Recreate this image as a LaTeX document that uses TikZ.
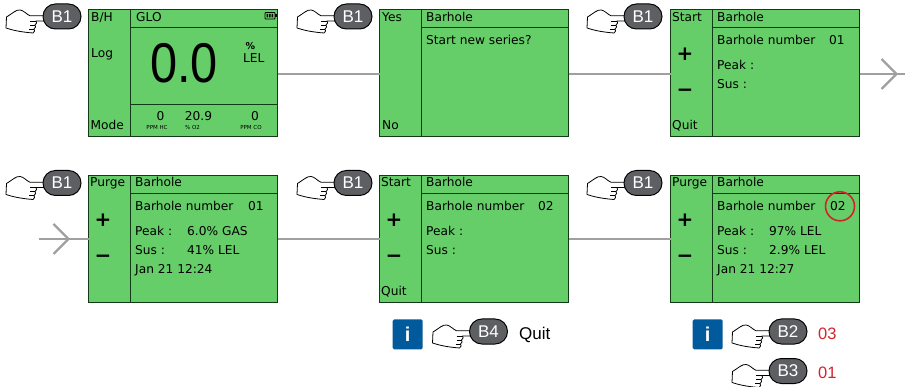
\documentclass[tikz,border=0pt]{standalone}
\usepackage{fontspec}
\setmainfont{Liberation Sans}
\newfontfamily\lcd{DejaVu Sans}
\definecolor{scrgreen}{HTML}{66CE69}
\definecolor{scrline}{HTML}{123A16}
\definecolor{pillgray}{HTML}{5E5F62}
\definecolor{linegray}{HTML}{A0A0A0}
\definecolor{infoblue}{HTML}{005A9C}
\definecolor{redtxt}{HTML}{D2232A}
\tikzset{
  screen/.style={draw=scrline,line width=1pt,fill=scrgreen,minimum width=189pt,minimum height=127pt,inner sep=0pt,outer sep=0pt,anchor=north west},
  divider/.style={scrline,line width=1pt},
  lt/.style={font=\lcd\fontsize{12.2}{13}\selectfont,text=black,anchor=base west,inner sep=0pt},
  ltc/.style={font=\lcd\fontsize{12.2}{13}\selectfont,text=black,anchor=base,inner sep=0pt},
  tiny/.style={font=\lcd\fontsize{5.5}{6}\selectfont,text=black,anchor=base,inner sep=0pt},
  sign/.style={font=\lcd\bfseries\fontsize{20}{21}\selectfont,text=black,anchor=center,inner sep=0pt},
  link/.style={linegray,line width=2.4pt},
  pill/.style={draw=black,line width=1pt,fill=pillgray,rounded corners=12.4pt,minimum width=38pt,minimum height=25pt,inner sep=0pt,text=white,font=\fontsize{17}{18}\selectfont},
  handline/.style={black,line width=.8pt,line join=round},
  infobox/.style={fill=infoblue,rounded corners=1.5pt,minimum width=30pt,minimum height=30pt,inner sep=0pt,text=white,font=\bfseries\fontsize{20}{21}\selectfont},
  rednum/.style={text=redtxt,font=\fontsize{16.5}{18}\selectfont,anchor=base west,inner sep=0pt},
}
% #1 x offset, #2 y offset, #3 name, #4 label
\newcommand{\handbtn}[4]{%
  \begin{scope}[shift={(#1,#2)}]
    \draw[handline,fill=white] (30,15.8) .. controls (26,14) and (24,10.5) .. (20,10) .. controls (16,9.6) and (13,13) .. (6.5,17) -- (6,28) .. controls (12,30) and (20,32) .. (33,33) .. controls (35,32) and (35,30) .. (34,29) .. controls (36,28) and (36,26) .. (35,25) .. controls (37,24) and (37,22) .. (36,21) -- (46,21) -- (46,15.8) -- cycle;
    \draw[handline] (30,21) -- (36,21) (30,25) -- (35,25) (29,29) -- (34,29);
    \node[pill] (#3) at (62,16.5) {#4};
  \end{scope}}
\begin{document}
\begin{tikzpicture}[x=1pt,y=-1pt]
\useasboundingbox (0,0) rectangle (905,387);
% screens
\node[screen] (s1) at (88.5,9.5) {};
\node[screen] (s2) at (379.5,9.5) {};
\node[screen] (s3) at (670.5,9.5) {};
\node[screen] (s4) at (88.5,175.5) {};
\node[screen] (s5) at (379.5,175.5) {};
\node[screen] (s6) at (670.5,175.5) {};
% dividers
\foreach \sx/\sy in {88.5/9.5,379.5/9.5,670.5/9.5,88.5/175.5,379.5/175.5,670.5/175.5}{
  \draw[divider] (\sx+42,\sy) -- (\sx+42,\sy+127);
  \draw[divider] (\sx+42,\sy+18) -- (\sx+189,\sy+18);
}
\draw[divider] (130.5,104.5) -- (277.5,104.5);
% connectors
\coordinate (endR) at (905,74);
\coordinate (tipR) at (896.5,74);
\coordinate (endL) at (39,239);
\coordinate (tipL) at (68.5,239);
\draw[link] ([yshift=-1pt]s1.east) -- ([yshift=-1pt]s2.west);
\draw[link] ([yshift=-1pt]s2.east) -- ([yshift=-1pt]s3.west);
\draw[link] ([yshift=-1pt]s3.east) -- (endR);
\draw[link] (endL) -- (s4.west);
\draw[link] (s4.east) -- (s5.west);
\draw[link] (s5.east) -- (s6.west);
\draw[linegray,line width=2.2pt] ([shift={(-15,-15)}]tipR) -- (tipR) -- ([shift={(-15,15)}]tipR);
\draw[linegray,line width=2.2pt] ([shift={(-15,-15)}]tipL) -- (tipL) -- ([shift={(-15,15)}]tipL);
% screen 1
\node[lt] (t1a) at (91,21.5) {B/H};
\node[lt] (t1b) at (91,58) {Log};
\node[lt] (t1c) at (90.5,130) {Mode};
\node[lt] (t1d) at (136,21.5) {GLO};
\node[anchor=base,inner sep=0pt,xscale=.87,font=\fontsize{56}{58}\selectfont] (t1e) at (184,83) {0.0};
\node[anchor=base,inner sep=0pt,font=\lcd\bfseries\fontsize{9.5}{10}\selectfont] (t1f) at (250.5,50) {\%};
\node[lt] (t1g) at (243,63) {LEL};
\node[ltc] (t1h) at (160.5,120.5) {0};
\node[ltc] (t1i) at (198.5,120.5) {20.9};
\node[ltc] (t1j) at (255,120.5) {0};
\node[tiny] (t1k) at (157,129.5) {PPM HC};
\node[tiny] (t1l) at (192.5,129.5) {\% O2};
\node[tiny] (t1m) at (251,129.5) {PPM CO};
\draw[black,line width=.8pt,rounded corners=.8pt] (265,12.5) rectangle (275,19);
\fill[black] (275.3,14.5) rectangle (276.5,17);
\fill[black] (266.5,14) rectangle (268,17.5) (269,14) rectangle (270.5,17.5) (271.5,14) rectangle (273,17.5);
% screen 2
\node[lt] (t2a) at (382,21.5) {Yes};
\node[lt] (t2b) at (382,130) {No};
\node[lt] (t2c) at (426,21.5) {Barhole};
\node[lt] (t2d) at (426,45) {Start new series?};
% screen 3
\node[lt] (t3a) at (672,21.5) {Start};
\node[lt] (t3b) at (672,130) {Quit};
\node[lt] (t3c) at (717,21.5) {Barhole};
\node[lt] (t3d) at (717,45) {Barhole number};
\node[lt] (t3e) at (829,45) {01};
\node[lt] (t3f) at (717,70) {Peak :};
\node[lt] (t3g) at (717,89) {Sus :};
\node[sign] (t3h) at (685,54.5) {+};
\node[sign] (t3i) at (685,92.5) {−};
% screen 4
\node[lt] (t4a) at (90,187) {Purge};
\node[lt] (t4b) at (135,187) {Barhole};
\node[lt] (t4c) at (135,211) {Barhole number};
\node[lt] (t4d) at (248,211) {01};
\node[lt] (t4e) at (135,236) {Peak :};
\node[lt] (t4f) at (187,236) {6.0\% GAS};
\node[lt] (t4g) at (135,255) {Sus :};
\node[lt] (t4h) at (187,255) {41\% LEL};
\node[lt] (t4i) at (135,274) {Jan 21 12:24};
\node[sign] (t4j) at (103,220.5) {+};
\node[sign] (t4k) at (103,258.5) {−};
% screen 5
\node[lt] (t5a) at (381,187) {Start};
\node[lt] (t5b) at (381,296) {Quit};
\node[lt] (t5c) at (426,187) {Barhole};
\node[lt] (t5d) at (426,211) {Barhole number};
\node[lt] (t5e) at (538,211) {02};
\node[lt] (t5f) at (426,236) {Peak :};
\node[lt] (t5g) at (426,255) {Sus :};
\node[sign] (t5h) at (394,220.5) {+};
\node[sign] (t5i) at (394,258.5) {−};
% screen 6
\node[lt] (t6a) at (672,187) {Purge};
\node[lt] (t6b) at (717,187) {Barhole};
\node[lt] (t6c) at (717,211) {Barhole number};
\node[lt] (t6d) at (830,211) {02};
\node[lt] (t6e) at (717,236) {Peak :};
\node[lt] (t6f) at (769,236) {97\% LEL};
\node[lt] (t6g) at (717,255) {Sus :};
\node[lt] (t6h) at (769,255) {2.9\% LEL};
\node[lt] (t6i) at (717,274) {Jan 21 12:27};
\node[sign] (t6j) at (685,220.5) {+};
\node[sign] (t6k) at (685,258.5) {−};
\node[draw=redtxt,line width=1.6pt,circle,minimum size=29pt,inner sep=0pt] (ring) at (840,206.3) {};
% hands
\handbtn{0}{0}{b1}{B1}
\handbtn{291}{0}{b2}{B1}
\handbtn{581}{0}{b3}{B1}
\handbtn{0}{166.5}{b4}{B1}
\handbtn{291}{166.5}{b5}{B1}
\handbtn{581}{166.5}{b6}{B1}
\handbtn{426.5}{315}{b7}{B4}
\handbtn{726}{315}{b8}{B2}
\handbtn{726}{354.5}{b9}{B3}
% notes
\node[infobox] (i1) at (407.7,334.3) {i};
\node[infobox] (i2) at (707.7,334.3) {i};
\node[anchor=base west,inner sep=0pt,font=\fontsize{17}{18}\selectfont] (q) at (519,339) {Quit};
\node[rednum] (n1) at (818,339) {03};
\node[rednum] (n2) at (818,378) {01};
\end{tikzpicture}
\end{document}
